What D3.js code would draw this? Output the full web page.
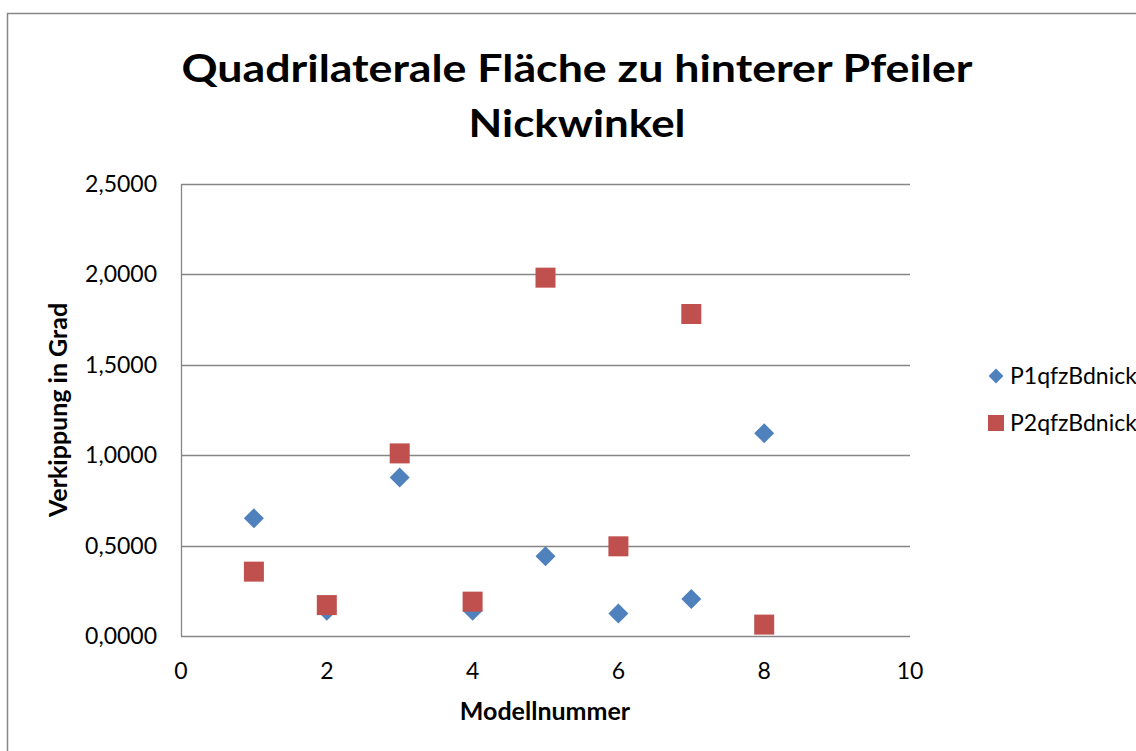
<!DOCTYPE html>
<html><head><meta charset="utf-8">
<script src="https://cdn.jsdelivr.net/npm/d3@7"></script>
<style>body{margin:0;background:#fff;overflow:hidden}svg{display:block}</style>
</head><body>
<script>
const modelNumbers = [1, 2, 3, 4, 5, 6, 7, 8];
const seriesNames = ["P1qfzBdnick", "P2qfzBdnick"];
const p1Values = [0.651, 0.14, 0.876, 0.14, 0.441, 0.125, 0.205, 1.121];
const p2Values = [0.356, 0.171, 1.010, 0.190, 1.982, 0.496, 1.781, 0.063];
const xTicks = [0, 2, 4, 6, 8, 10];
const yTicks = [0, 0.5, 1.0, 1.5, 2.0, 2.5];
const titleLines = ["Quadrilaterale Fläche zu hinterer Pfeiler", "Nickwinkel"];
const xTitle = "Modellnummer";
const yTitle = "Verkippung in Grad";

const W = 1136, H = 751;
const font = "Lato, 'Open Sans', sans-serif";
const svg = d3.select("body").append("svg").attr("width", W).attr("height", H);

// outer chart border
svg.append("rect").attr("x", 7.5).attr("y", 13.5).attr("width", 1200).attr("height", 800)
  .attr("fill", "#fff").attr("stroke", "#868686").attr("stroke-width", 1.5);

const x = d3.scaleLinear().domain([0, 10]).range([181, 910]);
const y = d3.scaleLinear().domain([0, 2.5]).range([636, 184]);

// gridlines
svg.append("g").selectAll("line").data(yTicks).join("line")
  .attr("x1", x(0)).attr("x2", x(10))
  .attr("y1", d => Math.round(y(d)) + 0.5).attr("y2", d => Math.round(y(d)) + 0.5)
  .attr("stroke", "#868686").attr("stroke-width", 1.3);
// y axis line
svg.append("line").attr("x1", x(0) + 0.5).attr("x2", x(0) + 0.5).attr("y1", y(2.5)).attr("y2", y(0))
  .attr("stroke", "#868686").attr("stroke-width", 1.3);

// y tick labels
const fmt = d => d3.format(".4f")(d).replace(".", ",");
svg.append("g").selectAll("text").data(yTicks).join("text")
  .attr("x", 157).attr("y", d => y(d)).attr("dy", "0.35em")
  .attr("text-anchor", "end").attr("font-family", font).attr("font-size", 23)
  .text(fmt);
// x tick labels
svg.append("g").selectAll("text").data(xTicks).join("text")
  .attr("x", d => x(d)).attr("y", 679)
  .attr("text-anchor", "middle").attr("font-family", font).attr("font-size", 23)
  .text(d => d);

// titles
svg.append("text").attr("x", 577).attr("y", 82).attr("text-anchor", "middle")
  .attr("font-family", font).attr("font-weight", "bold").attr("font-size", 38)
  .attr("textLength", 791).attr("lengthAdjust", "spacingAndGlyphs").text(titleLines[0]);
svg.append("text").attr("x", 577).attr("y", 137).attr("text-anchor", "middle")
  .attr("font-family", font).attr("font-weight", "bold").attr("font-size", 38)
  .attr("textLength", 217).attr("lengthAdjust", "spacingAndGlyphs").text(titleLines[1]);
svg.append("text").attr("x", 545).attr("y", 720).attr("text-anchor", "middle")
  .attr("font-family", font).attr("font-weight", "bold").attr("font-size", 25).text(xTitle);
svg.append("text").attr("transform", "translate(67,410) rotate(-90)").attr("text-anchor", "middle")
  .attr("font-family", font).attr("font-weight", "bold").attr("font-size", 25).text(yTitle);

const blue = "#4F81BD", red = "#C0504D";
const diamond = d3.symbol().type(d3.symbolSquare).size(200);
// series 1 diamonds
svg.append("g").selectAll("path").data(modelNumbers).join("path")
  .attr("d", diamond)
  .attr("transform", (d, i) => `translate(${x(d)},${y(p1Values[i])}) rotate(45)`)
  .attr("fill", blue);
// series 2 squares
const sq = 20;
svg.append("g").selectAll("rect").data(modelNumbers).join("rect")
  .attr("x", d => x(d) - sq / 2).attr("y", (d, i) => y(p2Values[i]) - sq / 2)
  .attr("width", sq).attr("height", sq).attr("fill", red);

// legend
const lg = svg.append("g");
lg.append("path").attr("d", d3.symbol().type(d3.symbolSquare).size(110))
  .attr("transform", `translate(996,376) rotate(45)`).attr("fill", blue);
lg.append("rect").attr("x", 988).attr("y", 415).attr("width", 16).attr("height", 16).attr("fill", red);
lg.selectAll("text").data(seriesNames).join("text")
  .attr("x", 1010).attr("y", (d, i) => 376 + i * 47).attr("dy", "0.35em")
  .attr("font-family", font).attr("font-size", 23).text(d => d);
</script>
</body></html>
